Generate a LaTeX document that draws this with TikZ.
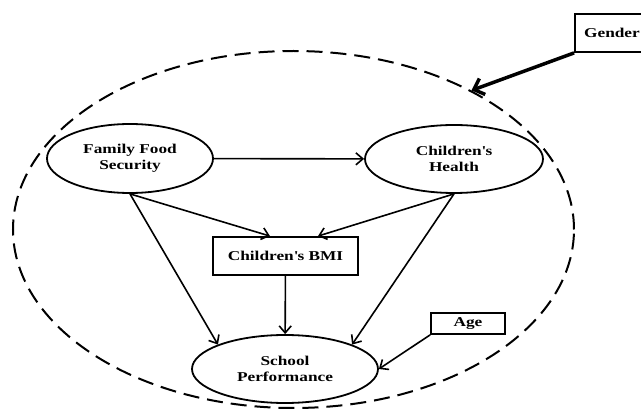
\documentclass[tikz,border=0pt]{standalone}
\usepackage{fontspec}
\setmainfont{Liberation Serif}[FakeStretch=1.28]
\usetikzlibrary{shapes.geometric, arrows.meta}

\tikzstyle{latent} = [ellipse, minimum width = 166pt, minimum height = 69pt,
	inner sep = 0pt, align = center, line width = 1.8pt, draw = black]
\tikzstyle{observed} = [rectangle, inner sep = 0pt, align = center,
	line width = 1.8pt, draw = black]
\tikzstyle{arrow} = [line width = 1.6pt, -{Straight Barb[length = 7pt, width = 12pt]}]

\begin{document}
\begin{tikzpicture}[x = 1pt, y = -1pt, font = \fontsize{13.5}{16}\selectfont\bfseries]

\useasboundingbox (0,0) rectangle (641,409);

% dashed frame round the model
\node (Model) [ellipse, draw = black, line width = 2pt, dash pattern = on 16pt off 8pt,
	minimum width = 561pt, minimum height = 357pt] at (293.5,229.5) {};

\node (FFS) [latent] at (130,158.5) {Family Food\\Security};
\node (CH) [latent, minimum width = 178pt, minimum height = 68pt] at (454,159)
	{Children\textquotesingle s\\Health};
\node (BMI) [observed, minimum width = 145pt, minimum height = 38pt] at (285.5,256)
	{Children\textquotesingle s BMI};
\node (SP) [latent, minimum width = 186pt, minimum height = 68pt] at (285,369)
	{School\\Performance};
\node (Age) [observed, minimum width = 74pt, minimum height = 21pt] at (468,323.5) {Age};
\node (Gender) [observed, minimum width = 74pt, minimum height = 38pt] at (612,33) {Gender};

\draw [arrow] (FFS) -- (CH);
\draw [arrow] (FFS.south) -- ([xshift = -15.5pt]BMI.north);
\draw [arrow] (CH.south) -- ([xshift = 32.5pt]BMI.north);
\draw [arrow] (FFS.south) -- (SP.160);
\draw [arrow] (CH.south) -- (SP.20);
\draw [arrow] (BMI) -- (SP);
\draw [arrow] (Age.south west) -- (SP.east);
\draw [line width = 3.5pt, -{Straight Barb[length = 9pt, width = 17pt]}]
	(Gender.south west) -- (Model.38);
\end{tikzpicture}
\end{document}
